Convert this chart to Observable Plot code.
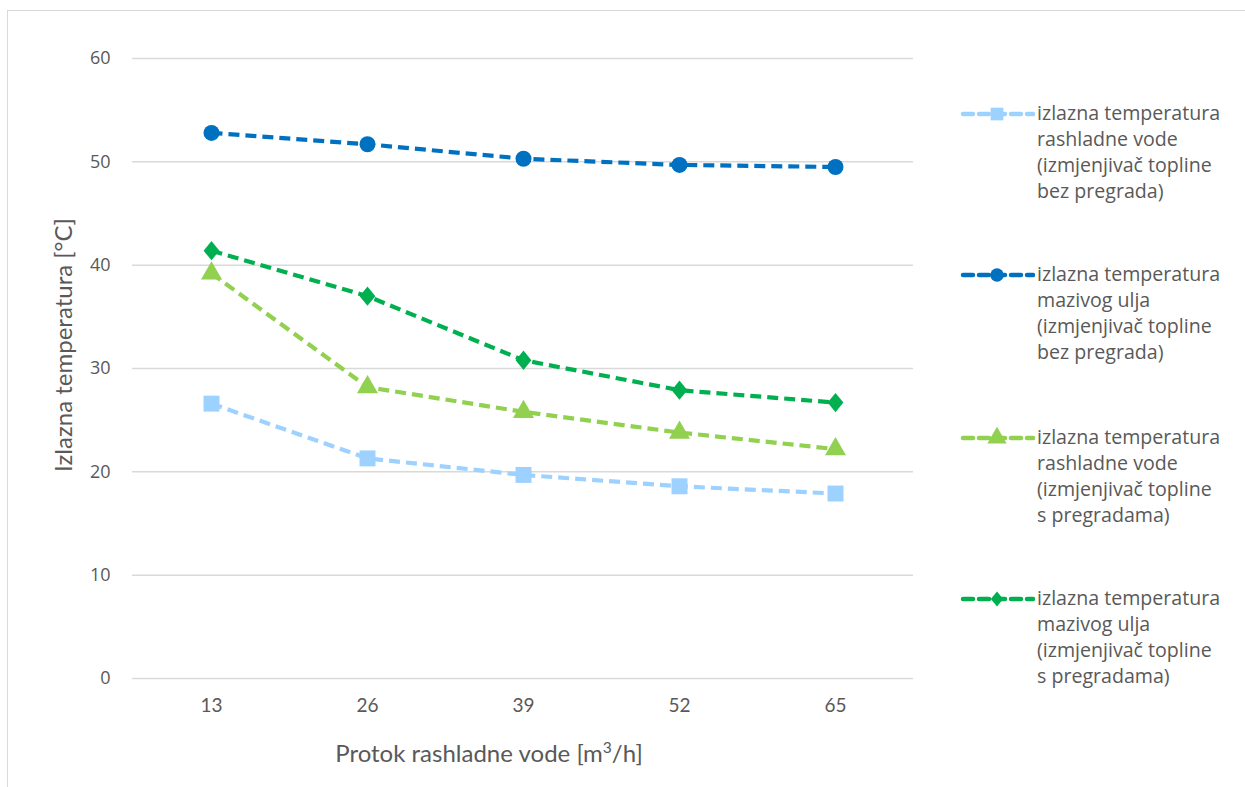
<!DOCTYPE html>
<html>
<head>
<meta charset="utf-8">
<script src="https://cdn.jsdelivr.net/npm/d3@7"></script>
<script src="https://cdn.jsdelivr.net/npm/@observablehq/plot@0.6"></script>
<style>
  html, body { margin: 0; padding: 0; background: #fff; }
  #wrap { position: relative; width: 1245px; height: 787px; overflow: hidden; background: #fff; }
  #frame { position: absolute; left: 7px; top: 10px; width: 1300px; height: 800px;
           border-left: 1.5px solid #d9d9d9; border-top: 1.5px solid #d9d9d9; }
  #chart { position: absolute; left: 0; top: 0; }
  .title { position: absolute; color: #595959; font-family: Lato, "Liberation Sans", sans-serif; font-size: 24px; white-space: nowrap; }
  #ytitle { left: 62px; top: 345px; transform: translate(-50%, -50%) rotate(-90deg); }
  #xtitle { left: 489px; top: 752px; transform: translate(-50%, -50%); }
  #legend { position: absolute; left: 960px; top: 0; font-family: "Open Sans", sans-serif; font-size: 19.6px; color: #595959; }
  .item { position: absolute; left: 0; width: 290px; }
  .item svg { position: absolute; left: 0; top: 0; }
  .item .txt { position: absolute; left: 77px; top: 0; line-height: 26px; white-space: nowrap; }
</style>
</head>
<body>
<div id="wrap">
  <div id="frame"></div>
  <div id="chart"></div>
  <div id="ytitle" class="title">Izlazna temperatura [°C]</div>
  <div id="xtitle" class="title">Protok rashladne vode [m<sup style="font-size:0.65em;vertical-align:0.55em;line-height:0">3</sup>/h]</div>
  <div id="legend"></div>
</div>
<script>
// Data
const flows = [13, 26, 39, 52, 65];
const yTicks = [0, 10, 20, 30, 40, 50, 60];
const seriesNames = [
  ["izlazna temperatura", "rashladne vode", "(izmjenjivač topline", "bez pregrada)"],
  ["izlazna temperatura", "mazivog ulja", "(izmjenjivač topline", "bez pregrada)"],
  ["izlazna temperatura", "rashladne vode", "(izmjenjivač topline", "s pregradama)"],
  ["izlazna temperatura", "mazivog ulja", "(izmjenjivač topline", "s pregradama)"]
];
const vodaBezPregrada = [26.6, 21.3, 19.7, 18.6, 17.9];
const uljeBezPregrada = [52.8, 51.7, 50.3, 49.7, 49.5];
const vodaSPregradama = [39.2, 28.2, 25.8, 23.8, 22.2];
const uljeSPregradama = [41.4, 37.0, 30.8, 27.9, 26.7];

const seriesValues = [vodaBezPregrada, uljeBezPregrada, vodaSPregradama, uljeSPregradama];
const seriesColors = ["#9DD1FF", "#0070C0", "#92D050", "#00B050"];

// Excel-like diamond: slightly taller than wide
const excelDiamond = {
  draw(context, size) {
    const s = Math.sqrt(size / 2);
    const w = s * 0.9, h = s * 1.1;
    context.moveTo(0, -h);
    context.lineTo(w, 0);
    context.lineTo(0, h);
    context.lineTo(-w, 0);
    context.closePath();
  }
};
const seriesSymbols = ["square", "circle", "triangle", excelDiamond];
const seriesR = [9, 8, 7.8, 7];

const rows = [];
seriesValues.forEach((vals, s) => {
  vals.forEach((v, i) => rows.push({series: s, flow: flows[i], value: v}));
});

const marks = [
  Plot.ruleY(yTicks, {stroke: "#d9d9d9", strokeWidth: 1.5})
];
seriesValues.forEach((vals, s) => {
  const d = rows.filter(r => r.series === s);
  marks.push(Plot.line(d, {x: "flow", y: "value", stroke: seriesColors[s], strokeWidth: 4.2,
    strokeDasharray: "11,6", strokeLinecap: "butt"}));
  marks.push(Plot.dot(d, {x: "flow", y: "value", symbol: seriesSymbols[s],
    fill: seriesColors[s], stroke: "none", r: seriesR[s]}));
});
marks.push(Plot.axisY({ticks: yTicks, tickSize: 0, tickPadding: 22, label: null,
  fontSize: 18, fontFamily: "Open Sans", fill: "#595959"}));
marks.push(Plot.axisX({tickSize: 0, tickPadding: 20, label: null,
  fontSize: 19, fontFamily: "Lato", fill: "#595959"}));

const chart = Plot.plot({
  width: 1245,
  height: 787,
  marginLeft: 132,
  marginRight: 332,
  marginTop: 58,
  marginBottom: 109,
  style: {background: "transparent", color: "#595959"},
  x: {type: "point", domain: flows, padding: 0.5},
  y: {domain: [0, 60]},
  marks
});
document.getElementById("chart").appendChild(chart);

// Legend
const legend = document.getElementById("legend");
const tops = [100, 261, 424, 585];
const legendSize = [Math.PI * 64 * 0.8, Math.PI * 56 * 0.8, Math.PI * 64 * 0.8, 95];
const legendSym = [d3.symbolSquare, d3.symbolCircle, d3.symbolTriangle, excelDiamond];
seriesNames.forEach((lines, s) => {
  const item = document.createElement("div");
  item.className = "item";
  item.style.top = tops[s] + "px";
  const c = seriesColors[s];
  const sym = d3.symbol(legendSym[s], legendSize[s])();
  item.innerHTML =
    `<svg width="75" height="30"><line x1="3" x2="73" y1="14" y2="14" stroke="${c}" stroke-width="4.5" stroke-dasharray="10,6" stroke-linecap="round"/>` +
    `<path d="${sym}" transform="translate(37,14)" fill="${c}"/></svg>` +
    `<div class="txt">${lines.join("<br>")}</div>`;
  legend.appendChild(item);
});
</script>
</body>
</html>
